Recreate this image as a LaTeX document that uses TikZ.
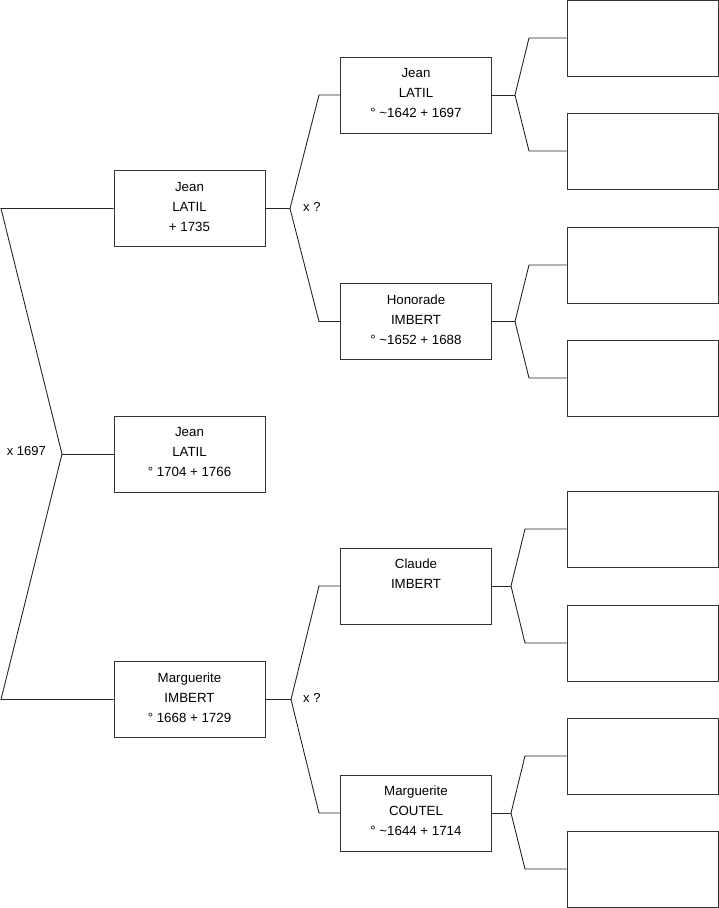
\documentclass[tikz,border=0pt]{standalone}
\usepackage{fontspec}
\setmainfont{Liberation Sans}
\begin{document}
\begin{tikzpicture}[x=1pt,y=-1pt,
  person/.style={draw=black!80, line width=0.9pt, minimum width=151pt, minimum height=76pt,
    align=center, font=\fontsize{13.3}{20}\selectfont, inner sep=0pt, text height=45.5pt, text depth=0pt},
  emptybox/.style={draw=black!80, line width=0.9pt, minimum width=151pt, minimum height=76pt, inner sep=0pt},
  link/.style={line width=0.9pt, draw=black!85},
  lbl/.style={font=\fontsize{13}{14}\selectfont, inner sep=0pt}]
\useasboundingbox (0,0) rectangle (719,908);

% generation 1
\node[person] (A) at (189.5,208.5) {Jean\\LATIL\\+ 1735};
\node[person] (B) at (189.5,454) {Jean\\LATIL\\° 1704 + 1766};
\node[person] (C) at (189.5,699.5) {Marguerite\\IMBERT\\° 1668 + 1729};

% generation 2
\node[person] (D) at (416,95) {Jean\\LATIL\\° \textasciitilde1642 + 1697};
\node[person] (E) at (416,321.5) {Honorade\\IMBERT\\° \textasciitilde1652 + 1688};
\node[person] (F) at (416,586) {Claude\\IMBERT\\\mbox{}};
\node[person] (G) at (416,813) {Marguerite\\COUTEL\\° \textasciitilde1644 + 1714};

% generation 3
\node[emptybox] (p1) at (642.5,38) {};
\node[emptybox] (p2) at (642.5,151) {};
\node[emptybox] (p3) at (642.5,265) {};
\node[emptybox] (p4) at (642.5,378) {};
\node[emptybox] (p5) at (642.5,529) {};
\node[emptybox] (p6) at (642.5,643) {};
\node[emptybox] (p7) at (642.5,756) {};
\node[emptybox] (p8) at (642.5,869) {};

% left bracket
\coordinate (aL) at (1,208.5);
\coordinate (vL) at (62,454);
\coordinate (cL) at (1,699.5);
\draw[link] (A.west) -- (aL) -- (vL) -- (cL) -- (C.west);
\draw[link] (vL) -- (B.west);
\node[lbl, anchor=east] (m1) at (46,451) {x 1697};

% bracket A
\coordinate (vA) at (290,208.5);
\coordinate (dA) at (319,95);
\coordinate (eA) at (319,321.5);
\draw[link] (A.east) -- (vA);
\draw[link] (D.west) -- (dA) -- (vA) -- (eA) -- (E.west);
\node[lbl, anchor=west] (m2) at (303,207) {x ?};

% bracket C
\coordinate (vC) at (291,699.5);
\coordinate (fC) at (319,586);
\coordinate (gC) at (319,813);
\draw[link] (C.east) -- (vC);
\draw[link] (F.west) -- (fC) -- (vC) -- (gC) -- (G.west);
\node[lbl, anchor=west] (m3) at (303,698) {x ?};

% bracket D
\coordinate (vD) at (515,95);
\coordinate (d1) at (529,38);
\coordinate (d2) at (529,151);
\draw[link] (D.east) -- (vD);
\draw[link] (p1.west) -- (d1) -- (vD) -- (d2) -- (p2.west);

% bracket E
\coordinate (vE) at (515,321.5);
\coordinate (e1) at (529,265);
\coordinate (e2) at (529,378);
\draw[link] (E.east) -- (vE);
\draw[link] (p3.west) -- (e1) -- (vE) -- (e2) -- (p4.west);

% bracket F
\coordinate (vF) at (511,586);
\coordinate (f1) at (525,529);
\coordinate (f2) at (525,643);
\draw[link] (F.east) -- (vF);
\draw[link] (p5.west) -- (f1) -- (vF) -- (f2) -- (p6.west);

% bracket G
\coordinate (vG) at (511,813);
\coordinate (g1) at (525,756);
\coordinate (g2) at (525,869);
\draw[link] (G.east) -- (vG);
\draw[link] (p7.west) -- (g1) -- (vG) -- (g2) -- (p8.west);
\end{tikzpicture}
\end{document}
